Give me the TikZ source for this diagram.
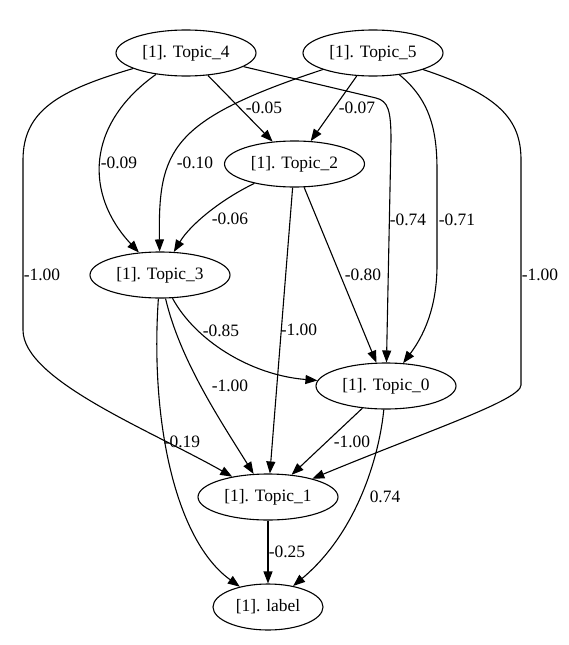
\documentclass[tikz,border=0pt]{standalone}
\usepackage{fontspec}
\setmainfont{Liberation Serif}
\usetikzlibrary{arrows.meta,shapes.geometric}
\tikzset{
  topic/.style={draw,ellipse,line width=1.1pt,minimum width=140pt,minimum height=46pt,
                inner sep=0pt,font=\fontsize{17.4}{20}\selectfont},
  arr/.style={-{Triangle[length=12pt,width=9pt]},line width=1.1pt},
  lbl/.style={font=\fontsize{17.4}{20}\selectfont,inner sep=0pt},
}
\begin{document}
\begin{tikzpicture}[x=1pt,y=-1pt]
\useasboundingbox (0,0) rectangle (568,645);
% nodes
\node[topic] (t4) at (186,53) {[1]. Topic\_4};
\node[topic] (t5) at (373,53) {[1]. Topic\_5};
\node[topic] (t2) at (294.5,164) {[1]. Topic\_2};
\node[topic] (t3) at (160,275) {[1]. Topic\_3};
\node[topic] (t0) at (386,386) {[1]. Topic\_0};
\node[topic] (t1) at (268,497) {[1]. Topic\_1};
\node[topic,minimum width=110pt] (lab) at (268,607) {[1]. label};
% edges
\draw[arr] (t4) -- (t2);
\draw[arr] (t5) -- (t2);
\draw[arr] (t4) .. controls (85,125) and (85,195) .. (t3);
\draw[arr] (t5) .. controls (170,120) and (158,150) .. (t3);
\draw[arr] (t2) .. controls (220,200) and (190,225) .. (t3);
\draw[arr] (t4) -- (376,98) .. controls (388,101) and (391,110) .. (391,140) -- (t0);
\draw[arr] (t5) .. controls (430,100) and (437,130) .. (437,170) -- (437,265)
  .. controls (437,300) and (428,330) .. (t0);
\draw[arr] (t5) .. controls (500,95) and (521,120) .. (521,160) -- (521,385)
  .. controls (521,400) and (430,430) .. (t1);
\draw[arr] (t4) .. controls (60,90) and (23,110) .. (23,160) -- (23,330)
  .. controls (23,380) and (150,430) .. (t1);
\draw[arr] (t2) -- (t1);
\draw[arr] (t2) -- (t0);
\draw[arr] (t3) .. controls (195,340) and (250,375) .. (t0);
\draw[arr] (t3) .. controls (180,360) and (220,420) .. (t1);
\draw[arr] (t3) .. controls (150,420) and (175,540) .. (lab);
\draw[arr] (t0) -- (t1);
\draw[arr] (t0) .. controls (380,450) and (360,530) .. (lab);
\draw[arr] (t1) -- (lab);
% weights
\node[lbl] (w42) at (264,108) {-0.05};
\node[lbl] (w52) at (357,108) {-0.07};
\node[lbl] (w43) at (119,163) {-0.09};
\node[lbl] (w53) at (195,163) {-0.10};
\node[lbl] (w23) at (230,219) {-0.06};
\node[lbl] (w40) at (408,220) {-0.74};
\node[lbl] (w50) at (457,220) {-0.71};
\node[lbl] (w41) at (42,275) {-1.00};
\node[lbl] (w51) at (540,275) {-1.00};
\node[lbl] (w20) at (363,275) {-0.80};
\node[lbl] (w30) at (221,331) {-0.85};
\node[lbl] (w21) at (299,330) {-1.00};
\node[lbl] (w31) at (230,386) {-1.00};
\node[lbl] (w3l) at (182,442) {-0.19};
\node[lbl] (w01) at (352,442) {-1.00};
\node[lbl] (w0l) at (385,497) {0.74};
\node[lbl] (w1l) at (287,552) {-0.25};
\end{tikzpicture}
\end{document}
